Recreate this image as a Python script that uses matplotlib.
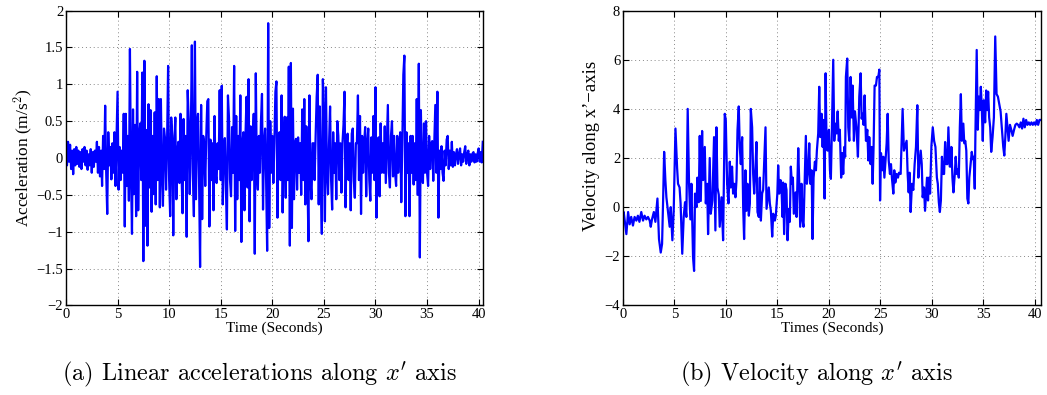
import numpy as np
import matplotlib
matplotlib.use("Agg")
import matplotlib.pyplot as plt
from matplotlib.ticker import FixedLocator, FuncFormatter

plt.rcParams['mathtext.fontset'] = 'cm'

acc_dt = 0.1
acc = [
    0.05, -0.10, 0.22, -0.05, 0.18, -0.15, 0.10, -0.22, 0.12, -0.10,
    0.15, -0.08, 0.10, -0.12, 0.08, -0.15, 0.12, -0.05, 0.15, -0.10,
    0.10, -0.16, 0.05, -0.10, 0.12, -0.20, 0.08, -0.12, 0.10, -0.05,
    0.22, -0.20, 0.15, -0.25, 0.10, -0.38, 0.30, -0.15, 0.71, -0.20,
    -0.76, 0.35, -0.10, 0.15, -0.29, 0.20, -0.20, 0.35, -0.38, 0.25,
    0.90, -0.43, 0.15, -0.30, 0.10, -0.20, 0.60, -0.93, 0.60, -0.38,
    0.30, -0.58, 1.48, -0.20, -1.03, 0.66, -0.49, 0.45, -0.79, 1.17,
    -0.71, 0.30, 0.47, -0.30, 1.16, -1.40, 1.32, -0.92, 0.38, -1.19,
    0.73, -0.40, 0.65, -0.73, 0.30, -0.49, 0.62, -0.63, 1.11, -0.30,
    0.80, -0.67, 0.80, -0.20, -0.65, 0.40, 0.27, -0.43, 0.20, 1.25,
    -0.30, -0.79, 0.55, 0.30, -1.05, 0.20, 0.55, -0.56, 0.10, 0.22,
    -0.34, 0.60, -0.20, -0.75, 0.53, -0.30, 0.30, -1.07, 0.92, 0.50,
    -0.49, 0.30, 1.53, -0.20, -0.79, 1.58, -0.56, 0.46, 0.60, -0.30,
    -1.48, 0.72, -0.83, 0.30, 0.20, -0.38, 0.30, 0.77, 0.80, -0.93,
    0.25, -0.30, 0.20, -0.71, 0.57, -0.20, -0.34, 0.20, -0.15, 0.92,
    -0.30, 0.98, -0.63, 0.10, 0.27, -0.40, -0.97, 0.85, 0.55, -0.30,
    -0.52, 0.42, -0.20, 1.25, -0.99, 0.57, -0.56, 0.30, -0.30, 0.85,
    -1.14, 0.20, 0.35, -0.71, 0.30, 0.83, -0.40, 1.07, -0.86, 0.43,
    -0.30, 0.20, 0.60, -1.30, 1.15, -0.20, -0.43, 0.30, -0.20, 0.50,
    0.87, -0.70, 0.20, 0.40, -0.30, -1.26, 1.83, -0.95, 0.50, -0.20,
    0.30, -0.34, 0.20, 0.90, 1.04, -0.81, 0.30, 0.35, -0.30, 0.85,
    -0.74, 0.20, 0.56, -0.54, 0.55, -0.30, 1.24, -1.19, 1.29, -0.95,
    0.67, -0.56, 0.20, 0.26, -0.43, 0.28, -0.20, 0.20, -0.50, 0.66,
    -0.30, 0.80, -0.63, 0.43, -0.20, -1.13, 0.85, -0.30, -0.56, 0.20,
    0.20, -0.30, 0.30, 0.83, 1.13, -0.63, 0.70, -0.30, -1.03, 1.07,
    0.57, -0.86, 0.96, -0.20, -0.49, 0.20, 0.70, -0.30, -0.70, 0.35,
    -0.20, 0.20, -0.56, 0.50, 0.30, -0.30, 0.20, -0.47, 0.20, 0.45,
    0.90, -0.67, 0.20, 0.33, -0.30, 0.20, -0.71, 0.33, 0.40, -0.30,
    -0.54, 0.20, 0.20, 0.85, -0.30, 0.57, -0.76, 0.30, -0.20, 0.20,
    0.42, -0.52, 0.20, 0.40, -0.30, -0.58, 0.28, -0.20, 0.57, -0.30,
    0.96, -0.81, 0.20, 0.28, -0.52, 0.47, -0.20, 0.20, -0.20, 0.43,
    -0.34, 0.20, 0.72, -0.20, -0.40, 0.30, 0.50, -0.25, 0.30, -0.20,
    -0.38, 0.30, -0.20, 0.20, 0.35, -0.60, 0.20, 1.13, 1.39, -0.79,
    0.35, -0.20, 0.20, -0.79, 0.30, -0.20, 0.30, -0.36, 0.20, -0.30,
    0.80, -0.50, 1.28, -1.35, 0.65, -0.20, -0.34, 0.47, -0.20, 0.50,
    -0.20, -0.38, 0.30, -0.15, 0.20, 0.23, -0.31, 0.20, 0.72, -0.20,
    0.90, -0.81, 0.10, -0.15, 0.16, -0.20, -0.31, 0.10, -0.10, 0.25,
    0.30, -0.15, 0.10, -0.10, 0.22, -0.12, 0.08, -0.10, 0.05, 0.12,
    -0.08, 0.05, 0.13, -0.10, 0.05, -0.05, 0.08, 0.16, -0.08, 0.05,
    0.10, -0.10, 0.05, -0.05, 0.06, 0.08, -0.06, 0.05, -0.05, 0.06,
    0.13, -0.05, 0.08, -0.06, 0.22,
]

# (b) velocity along x' (time in s, value)
vel_t = [
    0.0, 0.07, 0.33, 0.5, 0.65, 0.8, 0.97, 1.13, 1.3, 1.45, 1.6, 1.78, 1.95,
    2.1, 2.27, 2.43, 2.6, 2.7, 2.82, 3.0, 3.15, 3.35, 3.5, 3.67, 3.8, 3.9,
    4.0, 4.12, 4.22, 4.38, 4.54, 4.64, 4.8, 4.93, 5.1, 5.26, 5.35, 5.5, 5.6,
    5.76, 5.9, 6.03, 6.16, 6.29, 6.42, 6.55, 6.65, 6.81, 6.91, 7.0, 7.14,
    7.23, 7.36, 7.46, 7.56, 7.69, 7.79, 7.95, 8.05, 8.18, 8.27, 8.43, 8.53,
    8.69, 8.85, 8.98, 9.08, 9.18, 9.31, 9.4, 9.57, 9.73, 9.89, 9.99, 10.12,
    10.25, 10.38, 10.48, 10.6, 10.7, 10.8, 10.93, 11.03, 11.13, 11.25, 11.35,
    11.45, 11.58, 11.68, 11.77, 11.9, 12.0, 12.1, 12.23, 12.33, 12.42, 12.55,
    12.65, 12.75, 12.88, 12.97, 13.07, 13.2, 13.3, 13.4, 13.52, 13.62, 13.72,
    13.85, 13.95, 14.04, 14.17, 14.27, 14.37, 14.5, 14.6, 14.76, 14.85, 15.0,
    15.08, 15.18, 15.31, 15.41, 15.5, 15.56, 15.66, 15.79, 15.89, 15.99,
    16.12, 16.21, 16.31, 16.41, 16.51, 16.6, 16.77, 16.87, 17.03, 17.13,
    17.22, 17.35, 17.45, 17.54, 17.67, 17.77, 17.87, 18.0, 18.1, 18.2, 18.33,
    18.42, 18.52, 18.65, 18.75, 18.84, 18.97, 19.07, 19.17, 19.3, 19.4,
    19.49, 19.59, 19.69, 19.78, 19.88, 20.01, 20.11, 20.2, 20.3, 20.43,
    20.53, 20.63, 20.76, 20.86, 20.97, 21.07, 21.2, 21.3, 21.4, 21.5, 21.59,
    21.66, 21.79, 21.89, 21.99, 22.12, 22.22, 22.31, 22.44, 22.54, 22.7,
    22.83, 22.96, 23.09, 23.19, 23.28, 23.38, 23.48, 23.61, 23.74, 23.84,
    23.93, 24.06, 24.16, 24.26, 24.35, 24.45, 24.58, 24.68, 24.81, 24.91,
    24.98, 25.07, 25.2, 25.3, 25.4, 25.49, 25.62, 25.72, 25.82, 25.94,
    26.04, 26.14, 26.27, 26.36, 26.46, 26.59, 26.72, 26.82, 26.98, 27.08,
    27.17, 27.3, 27.43, 27.56, 27.66, 27.76, 27.85, 27.95, 28.08, 28.21,
    28.34, 28.47, 28.6, 28.7, 28.8, 28.93, 29.03, 29.12, 29.25, 29.35,
    29.45, 29.54, 29.64, 29.74, 29.84, 29.97, 30.1, 30.23, 30.36, 30.5,
    30.59, 30.69, 30.79, 30.89, 30.99, 31.11, 31.2, 31.3, 31.43, 31.52,
    31.62, 31.75, 31.85, 31.91, 32.01, 32.11, 32.24, 32.33, 32.43, 32.53,
    32.63, 32.73, 32.83, 32.93, 33.07, 33.16, 33.26, 33.36, 33.46, 33.56,
    33.65, 33.75, 33.89, 33.99, 34.08, 34.18, 34.24, 34.37, 34.47, 34.57,
    34.67, 34.77, 34.86, 34.96, 35.06, 35.19, 35.29, 35.39, 35.48, 35.58,
    35.68, 35.78, 35.91, 36.04, 36.17, 36.3, 36.43, 36.56, 36.69, 36.82,
    36.95, 37.05, 37.15, 37.25, 37.38, 37.47, 37.6, 37.73, 37.86, 38.0,
    38.13, 38.26, 38.39, 38.52, 38.65, 38.78, 38.91, 39.04, 39.17, 39.3,
    39.43, 39.56, 39.69, 39.82, 39.95, 40.08, 40.21, 40.34, 40.47, 40.6,
]
vel_v = [
    -0.3, -0.2, -1.1, -0.2, -0.7, -0.4, -0.75, -0.4, -0.55, -0.35, -0.6, -0.2, -0.55,
    -0.35, -0.5, -0.4, -0.55, -0.8, -0.5, -0.2, -0.6, 0.35, -1.3, -1.85, -1.5, 0.27,
    2.25, 1.1, 0.4, -0.2, -0.8, 0.0, -1.35, -0.15, 3.2, 1.6, 0.95, 0.8, 0.15,
    -1.9, -0.4, 0.2, -0.4, 4.0, 0.95, -0.5, 0.95, -2.05, -2.6, 0.55, 0.0,
    1.2, 0.2, 2.9, 0.25, 3.1, 1.1, 2.45, 0.15, 0.95, -1.1, 2.0, -0.27,
    0.27, 2.85, -0.95, 3.25, 0.8, 0.5, -0.8, 0.4, -1.35, 3.8, 3.55, 0.95,
    0.15, 1.85, 0.8, 1.65, 0.55, 0.95, 0.4, 1.1, 3.15, 4.1, 2.45,
    1.75, 2.85, 0.0, -1.3, 1.5, -0.15, 0.95, -0.35, 0.15, 4.0, 3.25,
    1.35, 0.55, 1.65, 2.65, -0.2, -0.4, 1.2, -0.55, 0.55, 0.7, 1.85,
    3.25, -0.07, 0.27, 0.8, 0.15, -0.15, -1.2, -0.27, -0.55, -0.35, 0.55,
    1.7, 0.55, 1.1, 0.7, -0.4, 1.0, -1.1, 0.95, 0.7, -1.35,
    -0.07, -0.6, 1.65, 0.95, 1.2, -0.27, 0.6, -0.4, 2.4, 0.95,
    -0.8, 0.95, -0.55, -0.8, 1.3, 2.9, 0.95, 1.5, 2.6, 0.95, 1.5,
    -1.3, 1.2, 1.85, 1.5, 2.3, 3.0, 4.9, 2.85, 3.8, 2.45,
    3.55, 0.35, 5.45, 2.6, 2.3, 3.15, 1.5, 1.15, 3.15, 6.0,
    2.7, 3.4, 3.0, 3.9, 2.7, 3.15, 1.2, 2.2, 1.35, 2.45, 2.05,
    5.3, 6.05, 3.25, 2.7, 5.3, 3.65, 4.95, 2.7, 3.9, 3.15,
    2.05, 4.5, 5.45, 3.6, 3.8, 3.35, 4.55, 2.7, 3.15, 1.9,
    2.85, 1.75, 2.45, 0.95, 2.45, 4.95, 4.95, 5.3, 5.3, 5.6,
    0.27, 2.2, 1.5, 2.05, 1.2, 1.75, 2.6, 3.8, 1.9, 1.35,
    1.75, 1.15, 0.55, 1.5, 1.0, 1.35, 1.2, 1.4, 1.35, 2.7,
    4.0, 2.3, 2.5, 2.7, 1.35, 0.6, 1.4, -0.2, 0.95, 0.7,
    1.75, 2.45, 4.15, 1.2, 1.75, 2.3, 1.75, 0.4, 0.8, -0.15,
    0.55, 1.2, 0.27, 1.2, 0.55, 2.5, 3.25, 2.7, 2.45, 1.2,
    0.95, 0.2, -0.2, 0.27, 2.05, 1.35, 1.35, 2.65, 1.75, 1.75,
    3.25, 1.65, 1.65, 2.45, 1.2, 0.6, 1.35, 2.05, 1.35, 1.55,
    1.2, 3.25, 4.6, 2.7, 3.4, 2.6, 2.7, 2.3, 0.35, 0.15,
    1.2, 1.65, 2.25, 1.95, 2.05, 0.75, 2.85, 6.4, 3.15, 4.5,
    3.95, 4.9, 4.1, 2.7, 4.35, 3.45, 4.75, 3.95, 4.7, 3.65,
    3.25, 2.25, 2.85, 3.65, 6.95, 4.6, 4.5, 4.2, 3.9, 3.15,
    2.45, 2.1, 2.85, 3.8, 3.15, 2.7, 3.35, 3.15, 2.9, 3.15,
    3.35, 3.4, 3.35, 3.25, 3.45, 3.2, 3.6, 3.25, 3.55, 3.35,
    3.45, 3.35, 3.45, 3.35, 3.45, 3.35, 3.55, 3.35, 3.55, 3.55,
]

x_ticks = [0, 5, 10, 15, 20, 25, 30, 35, 40]
acc_ticks = [-2, -1.5, -1, -0.5, 0, 0.5, 1, 1.5, 2]
vel_ticks = [-4, -2, 0, 2, 4, 6, 8]

serif = 'Liberation Serif'


def fmt(v, pos):
    s = '%g' % v
    return s.replace('-', '\u2212')


def style_axes(ax, yticks, xmax):
    ax.set_xlim(0, xmax)
    ax.set_ylim(yticks[0], yticks[-1])
    ax.xaxis.set_major_locator(FixedLocator(x_ticks))
    ax.yaxis.set_major_locator(FixedLocator(yticks))
    ax.xaxis.set_major_formatter(FuncFormatter(fmt))
    ax.yaxis.set_major_formatter(FuncFormatter(fmt))
    ax.tick_params(direction='in', top=True, right=True, length=4,
                   width=0.8, labelsize=10.5, pad=2)
    for lab in ax.get_xticklabels() + ax.get_yticklabels():
        lab.set_family(serif)
    ax.grid(True, color='#888888', linestyle=(0, (1, 3)), linewidth=0.7)
    for sp in ax.spines.values():
        sp.set_linewidth(1.0)


fig = plt.figure(figsize=(10.47, 3.95), dpi=100)

ax1 = fig.add_axes([0.063, 0.227, 0.3986, 0.746])
t_acc = np.arange(len(acc)) * acc_dt
ax1.plot(t_acc, acc, color='blue', linewidth=1.6)
style_axes(ax1, acc_ticks, 40.45)
ax1.set_xlabel('Time (Seconds)', family=serif, fontsize=11, labelpad=0)
ax1.set_ylabel('Acceleration (m/s$^2$)', family=serif, fontsize=12.5, labelpad=1)

ax2 = fig.add_axes([0.595, 0.227, 0.3993, 0.746])
ax2.plot(vel_t, vel_v, color='blue', linewidth=1.6)
style_axes(ax2, vel_ticks, 40.62)
ax2.set_xlabel('Times (Seconds)', family=serif, fontsize=11, labelpad=0)
ax2.set_ylabel('Velocity along x\u2019\u2212axis', family=serif, fontsize=13.5, labelpad=1)
ax2.yaxis.set_label_coords(-0.055, 0.54)

fig.text(260 / 1047, 1 - 374 / 395, r"(a) Linear accelerations along $x'$ axis",
         family='cmr10', fontsize=17.5, ha='center', va='center')
fig.text(817 / 1047, 1 - 374 / 395, r"(b) Velocity along $x'$ axis",
         family='cmr10', fontsize=17.5, ha='center', va='center')

fig.savefig('out.png', dpi=100)
